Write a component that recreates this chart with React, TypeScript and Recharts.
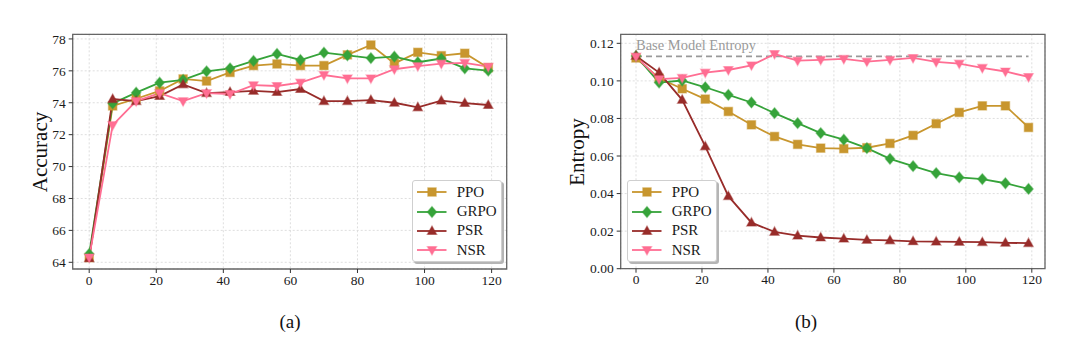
import React from 'react';
import {
  LineChart,
  Line,
  XAxis,
  YAxis,
  CartesianGrid,
  Legend,
  ReferenceLine,
  ReferenceArea,
} from 'recharts';

// ---------- data ----------
const steps = [0, 7, 14, 21, 28, 35, 42, 49, 56, 63, 70, 77, 84, 91, 98, 105, 112, 119];

const accPPO = [64.3, 73.8, 74.25, 74.74, 75.49, 75.36, 75.9, 76.33, 76.43, 76.33, 76.33, 77.0, 77.62, 76.47, 77.16, 76.95, 77.1, 76.2];
const accGRPO = [64.52, 73.96, 74.63, 75.26, 75.43, 75.97, 76.16, 76.62, 77.06, 76.68, 77.14, 76.97, 76.8, 76.89, 76.54, 76.77, 76.16, 76.01];
const accPSR = [64.25, 74.23, 74.1, 74.42, 75.15, 74.6, 74.67, 74.74, 74.67, 74.86, 74.1, 74.1, 74.17, 74.0, 73.71, 74.13, 73.98, 73.86];
const accNSR = [64.3, 72.6, 74.1, 74.6, 74.1, 74.6, 74.55, 75.1, 75.05, 75.26, 75.74, 75.53, 75.53, 76.1, 76.3, 76.45, 76.5, 76.26];

const entPPO = [0.1122, 0.1014, 0.0958, 0.0903, 0.0837, 0.0766, 0.0704, 0.0662, 0.0642, 0.0639, 0.0644, 0.0667, 0.071, 0.0772, 0.0832, 0.0867, 0.0867, 0.0752];
const entGRPO = [0.1133, 0.0991, 0.1002, 0.0966, 0.0926, 0.0885, 0.0828, 0.0775, 0.0722, 0.0687, 0.0642, 0.0585, 0.0546, 0.0509, 0.0486, 0.0477, 0.0455, 0.0425];
const entPSR = [0.1133, 0.1044, 0.0899, 0.0651, 0.0386, 0.0245, 0.0196, 0.0176, 0.0166, 0.016, 0.0153, 0.0151, 0.0146, 0.0144, 0.0143, 0.0141, 0.0138, 0.0136];
const entNSR = [0.1129, 0.1009, 0.1016, 0.1044, 0.1058, 0.1083, 0.1143, 0.1108, 0.1112, 0.1117, 0.1103, 0.1112, 0.1122, 0.1101, 0.1092, 0.1069, 0.105, 0.1021];

const baseEntropy = 0.113;

const xTicks = [0, 20, 40, 60, 80, 100, 120];
const accTicks = [64, 66, 68, 70, 72, 74, 76, 78];
const entTicks = [0, 0.02, 0.04, 0.06, 0.08, 0.1, 0.12];

const seriesNames = ['PPO', 'GRPO', 'PSR', 'NSR'];
const subplotLabels = ['(a)', '(b)'];
const yTitles = ['Accuracy', 'Entropy'];
const baseLabel = 'Base Model Entropy';

// ---------- styling ----------
const FONT = '"Liberation Serif", "Times New Roman", serif';
const colors: Record<string, string> = {
  PPO: '#c8962e',
  GRPO: '#36a33a',
  PSR: '#982c2a',
  NSR: '#ff6e93',
};
const markerKind: Record<string, string> = {
  PPO: 'square',
  GRPO: 'diamond',
  PSR: 'tri',
  NSR: 'triDown',
};

const accData = steps.map((s, i) => ({
  step: s,
  PPO: accPPO[i],
  GRPO: accGRPO[i],
  PSR: accPSR[i],
  NSR: accNSR[i],
}));
const entData = steps.map((s, i) => ({
  step: s,
  PPO: entPPO[i],
  GRPO: entGRPO[i],
  PSR: entPSR[i],
  NSR: entNSR[i],
}));

function MarkerShape({ cx, cy, kind, color }: { cx?: number; cy?: number; kind: string; color: string }) {
  if (cx == null || cy == null || isNaN(cx) || isNaN(cy)) return null;
  const common = {
    fill: color,
    stroke: color,
    strokeOpacity: 0.45,
    strokeWidth: 1.3,
  };
  if (kind === 'square') {
    return <rect x={cx - 4.2} y={cy - 4.2} width={8.4} height={8.4} {...common} />;
  }
  if (kind === 'diamond') {
    return (
      <polygon
        points={`${cx},${cy - 5.4} ${cx + 4.7},${cy} ${cx},${cy + 5.4} ${cx - 4.7},${cy}`}
        {...common}
      />
    );
  }
  if (kind === 'tri') {
    return (
      <polygon
        points={`${cx},${cy - 5} ${cx + 4.7},${cy + 3.4} ${cx - 4.7},${cy + 3.4}`}
        {...common}
      />
    );
  }
  return (
    <polygon
      points={`${cx},${cy + 5} ${cx + 4.7},${cy - 3.4} ${cx - 4.7},${cy - 3.4}`}
      {...common}
    />
  );
}

const renderDot = (name: string) => (p: any) => (
  <MarkerShape
    key={`${name}-${p.index}`}
    cx={p.cx}
    cy={p.cy}
    kind={markerKind[name]}
    color={colors[name]}
  />
);

const LegendBox = () => (
  <div
    style={{
      width: 90,
      height: 82,
      boxSizing: 'border-box',
      border: '1px solid #cfcfcf',
      borderRadius: 3,
      background: '#fff',
      boxShadow: '2px 2px 0 #b5b5b5',
      paddingTop: 1.5,
      fontFamily: FONT,
      color: '#1a1a1a',
    }}
  >
    {seriesNames.map((n) => (
      <div key={n} style={{ display: 'flex', alignItems: 'center', height: 19.4 }}>
        <svg width={36} height={14} style={{ display: 'block' }}>
          <line x1={4} x2={33.5} y1={7} y2={7} stroke={colors[n]} strokeWidth={1.8} />
          <MarkerShape cx={19} cy={7} kind={markerKind[n]} color={colors[n]} />
        </svg>
        <span style={{ marginLeft: 8, fontSize: 15, lineHeight: '15px' }}>{n}</span>
      </div>
    ))}
  </div>
);

const tickStyle = { fontSize: 13.5, fontFamily: FONT, fill: '#1a1a1a' };

export default function App() {
  const accDomain: [number, number] = [63.58, 78.29];
  const accX: [number, number] = [-4.92, 124.5];
  const entDomain: [number, number] = [0, 0.1248];
  const entX: [number, number] = [-4.64, 124.0];

  return (
    <div
      style={{
        position: 'absolute',
        left: 0,
        top: 0,
        width: 1080,
        height: 352,
        background: '#fff',
        fontFamily: FONT,
      }}
    >
      {/* Left: Accuracy */}
      <div style={{ position: 'absolute', left: 0, top: 0 }}>
        <LineChart
          width={540}
          height={352}
          data={accData}
          margin={{ top: 34.3, right: 33.3, left: 32.7, bottom: 53 }}
        >
          <CartesianGrid stroke="#d6d6d6" strokeDasharray="2 2" strokeWidth={0.8} />
          <XAxis
            dataKey="step"
            type="number"
            domain={accX}
            ticks={xTicks}
            allowDataOverflow
            axisLine={false}
            tickLine={{ stroke: '#333' }}
            tickSize={4}
            tickMargin={2}
            height={30}
            tick={tickStyle}
          />
          <YAxis
            type="number"
            domain={accDomain}
            ticks={accTicks}
            allowDataOverflow
            axisLine={false}
            tickLine={{ stroke: '#333' }}
            tickSize={4}
            tickMargin={3}
            width={40}
            tick={tickStyle}
          />
          <ReferenceArea
            x1={accX[0]}
            x2={accX[1]}
            y1={accDomain[0]}
            y2={accDomain[1]}
            fill="none"
            stroke="#666"
            strokeWidth={1.3}
          />
          {seriesNames.map((n) => (
            <Line
              key={n}
              dataKey={n}
              name={n}
              type="linear"
              stroke={colors[n]}
              strokeWidth={1.8}
              dot={renderDot(n)}
              activeDot={false}
              isAnimationActive={false}
            />
          ))}
          <Legend
            layout="horizontal"
            verticalAlign="middle"
            align="center"
            wrapperStyle={{ left: 411.7, top: 180, width: 90, height: 82 }}
            content={() => <LegendBox />}
          />
        </LineChart>
      </div>

      {/* Right: Entropy */}
      <div style={{ position: 'absolute', left: 540, top: 0 }}>
        <LineChart
          width={540}
          height={352}
          data={entData}
          margin={{ top: 34.3, right: 35, left: 40.7, bottom: 53.3 }}
        >
          <CartesianGrid stroke="#d6d6d6" strokeDasharray="2 2" strokeWidth={0.8} />
          <XAxis
            dataKey="step"
            type="number"
            domain={entX}
            ticks={xTicks}
            allowDataOverflow
            axisLine={false}
            tickLine={{ stroke: '#333' }}
            tickSize={4}
            tickMargin={2}
            height={30}
            tick={tickStyle}
          />
          <YAxis
            type="number"
            domain={entDomain}
            ticks={entTicks}
            allowDataOverflow
            axisLine={false}
            tickLine={{ stroke: '#333' }}
            tickSize={4}
            tickMargin={3}
            width={40}
            tick={tickStyle}
            tickFormatter={(v: number) => v.toFixed(2)}
          />
          <ReferenceArea
            x1={entX[0]}
            x2={entX[1]}
            y1={entDomain[0]}
            y2={entDomain[1]}
            fill="none"
            stroke="#666"
            strokeWidth={1.3}
          />
          <ReferenceLine
            segment={[
              { x: 0, y: baseEntropy },
              { x: 119, y: baseEntropy },
            ]}
            stroke="#9a9a9a"
            strokeWidth={1.8}
            strokeDasharray="6 4"
            label={(props: any) => {
              const vb = props.viewBox || {};
              return (
                <text
                  x={vb.x}
                  y={(vb.y ?? 0) - 6}
                  fill="#9a9a9a"
                  fontSize={14.5}
                  fontFamily={FONT}
                >
                  {baseLabel}
                </text>
              );
            }}
          />
          {seriesNames.map((n) => (
            <Line
              key={n}
              dataKey={n}
              name={n}
              type="linear"
              stroke={colors[n]}
              strokeWidth={1.8}
              dot={renderDot(n)}
              activeDot={false}
              isAnimationActive={false}
            />
          ))}
          <Legend
            layout="horizontal"
            verticalAlign="middle"
            align="center"
            wrapperStyle={{ left: 86.7, top: 180, width: 90, height: 82 }}
            content={() => <LegendBox />}
          />
        </LineChart>
      </div>

      {/* Axis titles */}
      <div
        style={{
          position: 'absolute',
          left: 40,
          top: 152,
          transform: 'translate(-50%, -50%) rotate(-90deg)',
          fontSize: 21,
          color: '#111',
          whiteSpace: 'nowrap',
          lineHeight: '21px',
        }}
      >
        {yTitles[0]}
      </div>
      <div
        style={{
          position: 'absolute',
          left: 577,
          top: 152,
          transform: 'translate(-50%, -50%) rotate(-90deg)',
          fontSize: 21,
          color: '#111',
          whiteSpace: 'nowrap',
          lineHeight: '21px',
        }}
      >
        {yTitles[1]}
      </div>

      {/* Subplot labels */}
      <div
        style={{
          position: 'absolute',
          left: 290,
          top: 321,
          transform: 'translate(-50%, -50%)',
          fontSize: 19,
          color: '#111',
          lineHeight: '19px',
        }}
      >
        {subplotLabels[0]}
      </div>
      <div
        style={{
          position: 'absolute',
          left: 806,
          top: 321,
          transform: 'translate(-50%, -50%)',
          fontSize: 19,
          color: '#111',
          lineHeight: '19px',
        }}
      >
        {subplotLabels[1]}
      </div>
    </div>
  );
}
